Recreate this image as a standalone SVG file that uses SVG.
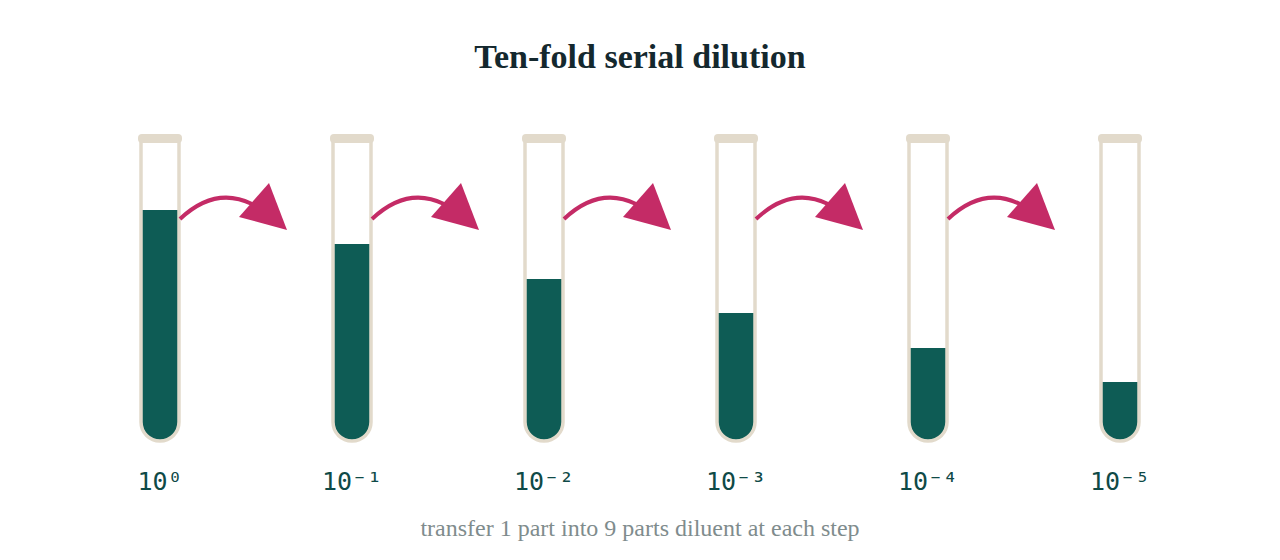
<svg xmlns="http://www.w3.org/2000/svg" xmlns:xlink="http://www.w3.org/1999/xlink" width="1280" height="560" viewBox="0 0 1280 560">
<style>
.wall{fill:none;stroke:#e2dacb;stroke-width:3.5}
.rim{fill:#e2dacb}
.liq{fill:#0e5c55}
.lbl{font-family:"DejaVu Sans Mono",monospace;font-size:25px;fill:#0f4a47;text-anchor:middle}
.arc{fill:none;stroke:#c42b66;stroke-width:4}
.head{fill:#c42b66}
.title{font-family:"Liberation Serif",serif;font-weight:bold;font-size:34px;fill:#14282e;text-anchor:middle}
.sub{font-family:"Liberation Serif",serif;font-size:24px;fill:#7f8c8d;text-anchor:middle}
</style>
<rect width="1280" height="560" fill="#ffffff"/>
<text class="title" x="640" y="68">Ten-fold serial dilution</text>
<g id="tube1"><path class="liq" d="M142,210 H178 V422 A18,18 0 0 1 142,422 Z"/><path class="wall" d="M141,140 V422 A19,19 0 0 0 179,422 V140"/><rect class="rim" x="138" y="134" width="44" height="9" rx="4"/><text class="lbl" x="160" y="490">10⁰</text></g>
<g id="tube2"><path class="liq" d="M334,244 H370 V422 A18,18 0 0 1 334,422 Z"/><path class="wall" d="M333,140 V422 A19,19 0 0 0 371,422 V140"/><rect class="rim" x="330" y="134" width="44" height="9" rx="4"/><text class="lbl" x="352" y="490">10⁻¹</text></g>
<g id="tube3"><path class="liq" d="M526,279 H562 V422 A18,18 0 0 1 526,422 Z"/><path class="wall" d="M525,140 V422 A19,19 0 0 0 563,422 V140"/><rect class="rim" x="522" y="134" width="44" height="9" rx="4"/><text class="lbl" x="544" y="490">10⁻²</text></g>
<g id="tube4"><path class="liq" d="M718,313 H754 V422 A18,18 0 0 1 718,422 Z"/><path class="wall" d="M717,140 V422 A19,19 0 0 0 755,422 V140"/><rect class="rim" x="714" y="134" width="44" height="9" rx="4"/><text class="lbl" x="736" y="490">10⁻³</text></g>
<g id="tube5"><path class="liq" d="M910,348 H946 V422 A18,18 0 0 1 910,422 Z"/><path class="wall" d="M909,140 V422 A19,19 0 0 0 947,422 V140"/><rect class="rim" x="906" y="134" width="44" height="9" rx="4"/><text class="lbl" x="928" y="490">10⁻⁴</text></g>
<g id="tube6"><path class="liq" d="M1102,382 H1138 V422 A18,18 0 0 1 1102,422 Z"/><path class="wall" d="M1101,140 V422 A19,19 0 0 0 1139,422 V140"/><rect class="rim" x="1098" y="134" width="44" height="9" rx="4"/><text class="lbl" x="1120" y="490">10⁻⁵</text></g>
<defs>
<g id="arr"><path class="arc" d="M180,219 Q215,186 252,204"/><polygon class="head" points="269,183 287,230 239,217"/></g>
</defs>
<g id="connectors">
<use xlink:href="#arr"/>
<use xlink:href="#arr" transform="translate(192,0)"/>
<use xlink:href="#arr" transform="translate(384,0)"/>
<use xlink:href="#arr" transform="translate(576,0)"/>
<use xlink:href="#arr" transform="translate(768,0)"/>
</g>
<text class="sub" x="640" y="536">transfer 1 part into 9 parts diluent at each step</text>
</svg>
